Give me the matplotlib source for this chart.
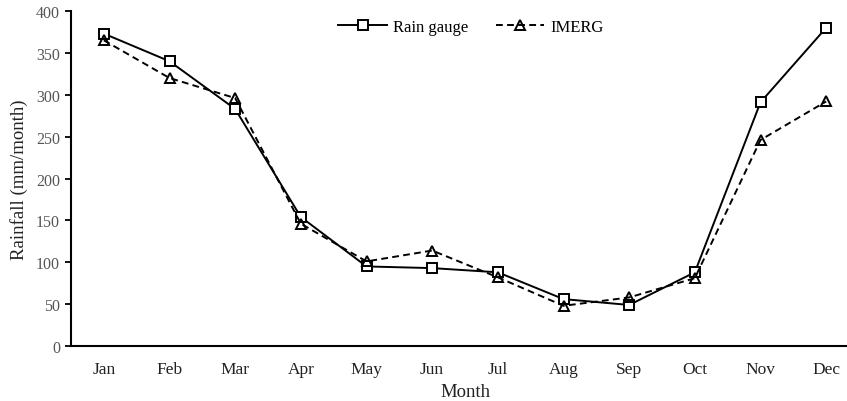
import matplotlib
matplotlib.use("Agg")
import matplotlib.pyplot as plt

months = ["Jan", "Feb", "Mar", "Apr", "May", "Jun", "Jul", "Aug", "Sep", "Oct", "Nov", "Dec"]
rain_gauge = [373, 340, 283, 154, 95, 93, 88, 56, 49, 88, 291, 380]
imerg = [365, 320, 296, 146, 101, 114, 82, 48, 58, 81, 246, 292]
y_ticks = [0, 50, 100, 150, 200, 250, 300, 350, 400]

plt.rcParams["font.family"] = ["Liberation Serif", "DejaVu Serif"]

fig = plt.figure(figsize=(8.47, 4.02), dpi=100)
ax = fig.add_axes([71 / 847, 1 - 347 / 402, (859 - 71) / 847, (347 - 12) / 402])

x = list(range(len(months)))
ax.plot(x, rain_gauge, "-", color="black", lw=1.4, marker="s", ms=7.5,
        mfc="white", mec="black", mew=1.4, label="Rain gauge")
ax.plot(x, imerg, "--", color="black", lw=1.4, dashes=(3.5, 2.2), marker="^", ms=7.5,
        mfc="none", mec="black", mew=1.4, label="IMERG")

ax.set_xlim(-0.5, len(months) - 0.5)
ax.set_ylim(0, 400)
ax.set_xticks(x)
ax.set_xticklabels(months)
ax.set_yticks(y_ticks)
ax.tick_params(axis="x", length=0, pad=11, labelsize=12.5, labelcolor="#222222")
ax.tick_params(axis="y", length=4, width=1.3, direction="out", pad=4, labelsize=11.5,
               labelcolor="#555555")
for s in ["top", "right"]:
    ax.spines[s].set_visible(False)
for s in ["left", "bottom"]:
    ax.spines[s].set_linewidth(1.5)

ax.set_xlabel("Month", fontsize=13.5, labelpad=4, color="#222222")
ax.set_ylabel("Rainfall (mm/month)", fontsize=13.5, labelpad=6, color="#222222")

leg = ax.legend(loc="center", ncol=2, frameon=False, fontsize=12, handlelength=2.9,
                columnspacing=1.7, handletextpad=0.35)
leg.set_bbox_to_anchor((471 / 847, 1 - 28 / 402), transform=fig.transFigure)

fig.savefig("out.png", dpi=100)
